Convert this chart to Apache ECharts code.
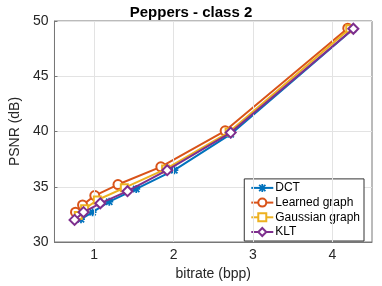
<!DOCTYPE html>
<html><head><meta charset="utf-8">
<script src="https://cdn.jsdelivr.net/npm/echarts@6/dist/echarts.min.js"></script>
<style>html,body{margin:0;padding:0;background:#fff}#c{width:382px;height:286px}</style>
</head><body><div id="c"></div>
<script>
var seriesNames = ['DCT', 'Learned graph', 'Gaussian graph', 'KLT'];
var dctX = [0.834, 0.98, 1.19, 1.53, 2.01, 2.72, 4.26];
var dctY = [32.06, 32.7, 33.65, 34.8, 36.5, 39.76, 49.25];
var learnedX = [0.765, 0.854, 1.008, 1.30, 1.84, 2.65, 4.195];
var learnedY = [32.7, 33.35, 34.2, 35.2, 36.8, 40.06, 49.35];
var gaussX = [0.80, 0.88, 1.04, 1.38, 1.90, 2.70, 4.22];
var gaussY = [32.4, 33.0, 33.8, 34.9, 36.6, 39.95, 49.3];
var kltX = [0.753, 0.866, 1.077, 1.42, 1.92, 2.72, 4.265];
var kltY = [32.0, 32.7, 33.5, 34.6, 36.5, 39.9, 49.3];
var xTicks = [1, 2, 3, 4];
var yTicks = [30, 35, 40, 45, 50];

var colors = ['#0072BD', '#D95319', '#EDB120', '#7E2F8E'];
var asterisk = 'path://M3.9,0L6.1,0L6.1,10L3.9,10Z M0,3.9L10,3.9L10,6.1L0,6.1Z M0.3,1.9L1.9,0.3L9.7,8.1L8.1,9.7Z M8.1,0.3L9.7,1.9L1.9,9.7L0.3,8.1Z';
function pairs(xs, ys){ return xs.map(function(v,i){return [v, ys[i]];}); }
var font = 'Liberation Sans';
var chart = echarts.init(document.getElementById('c'));
var symbols = [asterisk, 'emptyCircle', 'emptyRect', 'emptyDiamond'];
var sizes = [8, 9, 7, 10];
var datas = [pairs(dctX,dctY), pairs(learnedX,learnedY), pairs(gaussX,gaussY), pairs(kltX,kltY)];
var series = seriesNames.map(function(n, i){
  return {
    name: n, type: 'line', data: datas[i], symbol: symbols[i], symbolSize: sizes[i],
    showAllSymbol: true,
    lineStyle: {color: colors[i], width: 2},
    itemStyle: i === 0 ? {color: colors[i], borderWidth: 0} : {color: colors[i], borderColor: colors[i], borderWidth: 1.6},
    z: 3 + i
  };
});
series.unshift({
  name: 'grid', type: 'line', data: [], silent: true, z: 1,
  markLine: {
    silent: true, symbol: 'none', label: {show: false}, animation: false,
    lineStyle: {color: '#e3e3e3', width: 1, type: 'solid'},
    data: xTicks.map(function(v){ return {xAxis: v}; })
  }
});
chart.setOption({
  animation: false,
  textStyle: {fontFamily: font},
  title: {text: 'Peppers - class 2', left: 'center', top: 0,
    textStyle: {fontSize: 15, fontWeight: 'bold', color: '#000', fontFamily: font}},
  grid: {left: 41, right: 10, top: 21, bottom: 39, show: true, borderColor: '#777', borderWidth: 1},
  legend: {
    orient: 'vertical', right: 18, bottom: 45, itemWidth: 22, itemHeight: 10, itemGap: 2.7,
    backgroundColor: '#fff', borderColor: '#333', borderWidth: 1, padding: [3, 4, 3, 6],
    lineStyle: {width: 2, type: 'solid'},
    textStyle: {fontSize: 12, color: '#000', fontFamily: font, padding: [0,0,0,-3]},
    data: seriesNames
  },
  xAxis: {
    type: 'value', min: 0.5, max: 4.5,
    name: 'bitrate (bpp)', nameLocation: 'middle', nameGap: 25,
    nameTextStyle: {fontSize: 14, color: '#262626', fontFamily: font},
    axisLine: {show: true, onZero: false, lineStyle: {color: '#777'}},
    axisTick: {show: true, inside: true, length: 3, customValues: xTicks, lineStyle: {color: '#777'}},
    axisLabel: {fontSize: 14, color: '#262626', margin: 6, customValues: xTicks},
    splitLine: {show: false}
  },
  yAxis: {
    type: 'value', min: 30, max: 50, interval: 5,
    name: 'PSNR (dB)', nameLocation: 'middle', nameGap: 31,
    nameTextStyle: {fontSize: 14, color: '#262626', fontFamily: font},
    axisLine: {show: true, lineStyle: {color: '#777'}},
    axisTick: {show: true, inside: true, length: 3, lineStyle: {color: '#777'}},
    axisLabel: {fontSize: 14, color: '#262626', margin: 6},
    splitLine: {show: true, lineStyle: {color: '#e3e3e3'}}
  },
  series: series
});
</script></body></html>
